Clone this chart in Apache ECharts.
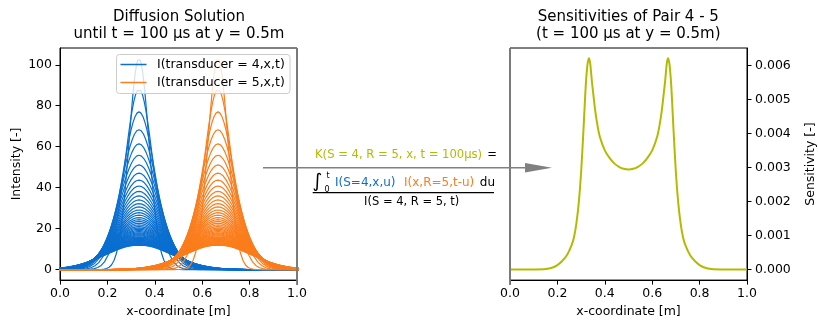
<!DOCTYPE html>
<html><head><meta charset="utf-8">
<script src="https://cdn.jsdelivr.net/npm/echarts@6/dist/echarts.min.js"></script>
<style>html,body{margin:0;padding:0;background:#fff}#c{width:818px;height:323px}</style>
</head><body><div id="c"></div>
<script>
// ---------- data ----------
const xTicks = [0, 0.2, 0.4, 0.6, 0.8, 1.0];
const intensityTicks = [0, 20, 40, 60, 80, 100];
const sensitivityTicks = [0, 0.001, 0.002, 0.003, 0.004, 0.005, 0.006];

// transducer positions along x (m)
const transducerX = [1/3, 2/3];
const seriesNames = ['I(transducer = 4,x,t)', 'I(transducer = 5,x,t)'];

// peak intensity of each time-snapshot curve (read from the arcs)
const peakHeights = [103.1, 88.1, 77.0, 68.3, 61.4, 55.8, 51.1, 47.1, 43.7, 40.8,
  38.2, 36.0, 34.0, 32.2, 30.6, 29.1, 27.8, 26.6, 25.4, 24.4,
  23.5, 22.6, 21.8, 21.0, 20.3, 19.7, 19.1, 18.5, 17.9, 17.4,
  16.9, 16.5, 16.0, 15.6, 15.2, 14.9, 14.5, 14.2, 13.85, 13.5,
  13.2, 13.0, 12.7, 12.4, 12.2, 11.95];
// spread (m) of each snapshot curve (read from envelope / flanks)
const peakWidths = [0.042, 0.058, 0.068, 0.075, 0.080, 0.084, 0.087, 0.089, 0.091, 0.093,
  0.095, 0.0965, 0.098, 0.0995, 0.101, 0.1025, 0.104, 0.1055, 0.107, 0.1085,
  0.110, 0.111, 0.112, 0.1135, 0.115, 0.116, 0.117, 0.1185, 0.120, 0.121,
  0.122, 0.123, 0.1245, 0.126, 0.127, 0.128, 0.129, 0.130, 0.1315, 0.133,
  0.134, 0.135, 0.136, 0.1375, 0.139, 0.141];
// normalised snapshot profile: offset (in widths) -> relative intensity
const profileU = [0, 0.125, 0.25, 0.375, 0.5, 0.625, 0.75, 0.875, 1.0, 1.125, 1.25, 1.375, 1.5,
  1.625, 1.75, 1.875, 2.0, 2.25, 2.5, 2.75, 3.0, 3.25, 3.5, 3.75, 4.0, 4.5, 5.0, 30];
const profileP = [1, 0.99222, 0.96923, 0.93210, 0.88250, 0.82258, 0.75484, 0.68196, 0.60653,
  0.53110, 0.45783, 0.38857, 0.32465, 0.26705, 0.21627, 0.17242, 0.13534, 0.07956, 0.04394,
  0.02279, 0.01111, 0.00509, 0.00219, 0.00088, 0.00034, 0.00004, 0, 0];

// sensitivity kernel of pair 4-5
const sensX = [0, 0.05, 0.10, 0.15, 0.18, 0.20, 0.22, 0.24, 0.26, 0.27, 0.28, 0.29, 0.30, 0.31,
  0.315, 0.32, 0.325, 0.328, 0.333, 0.338, 0.342, 0.346, 0.35, 0.36, 0.37, 0.38, 0.40, 0.42,
  0.44, 0.46, 0.48, 0.50, 0.52, 0.54, 0.56, 0.58, 0.60, 0.62, 0.63, 0.64, 0.65, 0.654, 0.658,
  0.662, 0.667, 0.672, 0.675, 0.68, 0.685, 0.69, 0.70, 0.71, 0.72, 0.73, 0.74, 0.76, 0.78,
  0.80, 0.82, 0.85, 0.90, 0.95, 1.0];
const sensY = [0, 0, 0.000002, 0.000015, 0.00006, 0.00013, 0.00025, 0.00042, 0.00072, 0.00095,
  0.00135, 0.00195, 0.00285, 0.0041, 0.0048, 0.00545, 0.0059, 0.00608, 0.00621, 0.00608,
  0.0058, 0.0055, 0.00525, 0.00465, 0.0042, 0.00388, 0.0035, 0.00328, 0.00312, 0.00302,
  0.00296, 0.00294, 0.00296, 0.00302, 0.00312, 0.00328, 0.0035, 0.00388, 0.0042, 0.00465,
  0.00525, 0.0055, 0.0058, 0.00608, 0.00621, 0.00608, 0.0059, 0.00545, 0.0048, 0.0041,
  0.00285, 0.00195, 0.00135, 0.00095, 0.00072, 0.00042, 0.00025, 0.00013, 0.00006,
  0.000015, 0.000002, 0, 0];

// ---------- styling ----------
const FONT = 'DejaVu Sans';
const BLUE = '#0a6fd0', ORANGE = '#fb7d1c', OLIVE = '#b3bb00';

function snapshot(center, h, w) {
  const pts = [];
  for (let i = profileU.length - 1; i > 0; i--) pts.push([center - profileU[i] * w, h * profileP[i]]);
  for (let i = 0; i < profileU.length; i++) pts.push([center + profileU[i] * w, h * profileP[i]]);
  return pts;
}

const series = [];
[BLUE, ORANGE].forEach((col, t) => {
  for (let k = 0; k < peakHeights.length; k++) {
    series.push({
      name: seriesNames[t], type: 'line', xAxisIndex: 0, yAxisIndex: 0,
      data: snapshot(transducerX[t], peakHeights[k], peakWidths[k]),
      showSymbol: false, silent: true, animation: false, clip: true,
      lineStyle: { color: col, width: 1.2 }
    });
  }
});
series.push({
  name: 'K', type: 'line', xAxisIndex: 1, yAxisIndex: 1,
  data: sensX.map((x, i) => [x, sensY[i]]),
  showSymbol: false, silent: true, animation: false, smooth: 0.3,
  lineStyle: { color: OLIVE, width: 2 }
});

const axisTxt = { color: '#000', fontSize: 12.5, fontFamily: FONT };
function xAx(gi) {
  return {
    gridIndex: gi, type: 'value', min: 0, max: 1, interval: 0.2,
    axisLine: { show: true, onZero: false, lineStyle: { color: '#000', width: 1 } },
    axisTick: { show: true, length: 4.5, lineStyle: { color: '#000' } },
    axisLabel: Object.assign({ margin: 7, formatter: v => v.toFixed(1) }, axisTxt),
    splitLine: { show: false },
    name: 'x-coordinate [m]', nameLocation: 'middle', nameGap: 23,
    nameTextStyle: axisTxt
  };
}

const txt = (x, y, text, fill, size, align, extra) => Object.assign({
  type: 'text', x: x, y: y, z: 100,
  style: { text: text, fill: fill, fontSize: size, fontFamily: FONT, align: align || 'center', verticalAlign: 'middle' }
}, extra || {});

const graphic = [
  txt(179, 17.3, 'Diffusion Solution', '#000', 15),
  txt(179, 34.3, 'until t = 100 µs at y = 0.5m', '#000', 15),
  txt(628.3, 17.3, 'Sensitivities of Pair 4 - 5', '#000', 15),
  txt(628.3, 34.3, '(t = 100 µs at y = 0.5m)', '#000', 15),
  // legend
  { type: 'rect', z: 99, shape: { x: 116.5, y: 54.5, width: 173.5, height: 39, r: 3 },
    style: { fill: 'rgba(255,255,255,0.8)', stroke: '#cccccc', lineWidth: 1 } },
  { type: 'line', z: 100, shape: { x1: 120.5, y1: 64.5, x2: 146.5, y2: 64.5 }, style: { stroke: BLUE, lineWidth: 1.5 } },
  { type: 'line', z: 100, shape: { x1: 120.5, y1: 82.5, x2: 146.5, y2: 82.5 }, style: { stroke: ORANGE, lineWidth: 1.5 } },
  txt(157, 64.3, seriesNames[0], '#000', 12.5, 'left'),
  txt(157, 82.3, seriesNames[1], '#000', 12.5, 'left'),
  // gray inner spines
  { type: 'line', z: 100, shape: { x1: 297, y1: 48, x2: 297, y2: 285 }, style: { stroke: '#7a7a7a', lineWidth: 1.8 } },
  { type: 'line', z: 100, shape: { x1: 510, y1: 48, x2: 510, y2: 285 }, style: { stroke: '#7a7a7a', lineWidth: 1.8 } },
  // arrow
  { type: 'line', z: 100, shape: { x1: 263, y1: 167.7, x2: 527, y2: 167.7 }, style: { stroke: '#808080', lineWidth: 1.5 } },
  { type: 'polygon', z: 100, shape: { points: [[525, 163], [552, 167.7], [525, 172.4]] }, style: { fill: '#808080' } },
  // formula
  txt(315, 155, 'K(S = 4, R = 5, x, t = 100µs)', OLIVE, 11.6, 'left'),
  txt(497, 155, '=', '#000', 11.6, 'right'),
  txt(317.5, 182, '∫', '#000', 19),
  txt(328, 175.5, 't', '#000', 8),
  txt(327, 189.5, '0', '#000', 8),
  txt(335, 183.3, 'I(S=4,x,u)', BLUE, 12, 'left'),
  txt(404, 183.3, 'I(x,R=5,t-u)', ORANGE, 12, 'left'),
  txt(495, 183.3, 'du', '#000', 12, 'right'),
  { type: 'line', z: 100, shape: { x1: 312.7, y1: 192.7, x2: 494, y2: 192.7 }, style: { stroke: '#000', lineWidth: 1.2 } },
  txt(411.7, 201.7, 'I(S = 4, R = 5, t)', '#000', 11.5)
];

const chart = echarts.init(document.getElementById('c'), null, { renderer: 'canvas' });
chart.setOption({
  animation: false,
  backgroundColor: '#fff',
  grid: [
    { left: 60, top: 48, width: 237, height: 237, show: true, borderColor: '#000', borderWidth: 1, backgroundColor: 'transparent' },
    { left: 510, top: 48, width: 237, height: 237, show: true, borderColor: '#000', borderWidth: 1, backgroundColor: 'transparent' }
  ],
  xAxis: [xAx(0), xAx(1)],
  yAxis: [
    { gridIndex: 0, type: 'value', min: -5.15, max: 108.2,
      axisLine: { show: true, onZero: false, lineStyle: { color: '#000' } },
      axisTick: { show: true, length: 4.5, customValues: intensityTicks, lineStyle: { color: '#000' } },
      axisLabel: Object.assign({ margin: 8, customValues: intensityTicks, formatter: v => String(Math.round(v)) }, axisTxt),
      splitLine: { show: false },
      name: 'Intensity [-]', nameLocation: 'middle', nameGap: 37, nameRotate: 90, nameTextStyle: axisTxt },
    { gridIndex: 1, type: 'value', position: 'right', min: -0.00031, max: 0.00651,
      axisLine: { show: true, onZero: false, lineStyle: { color: '#000' } },
      axisTick: { show: true, length: 4.5, customValues: sensitivityTicks, lineStyle: { color: '#000' } },
      axisLabel: Object.assign({ margin: 8, customValues: sensitivityTicks, formatter: v => v.toFixed(3) }, axisTxt),
      splitLine: { show: false },
      name: 'Sensitivity [-]', nameLocation: 'middle', nameGap: 57, nameRotate: 90, nameTextStyle: axisTxt }
  ],
  series: series,
  graphic: graphic
});
</script></body></html>
